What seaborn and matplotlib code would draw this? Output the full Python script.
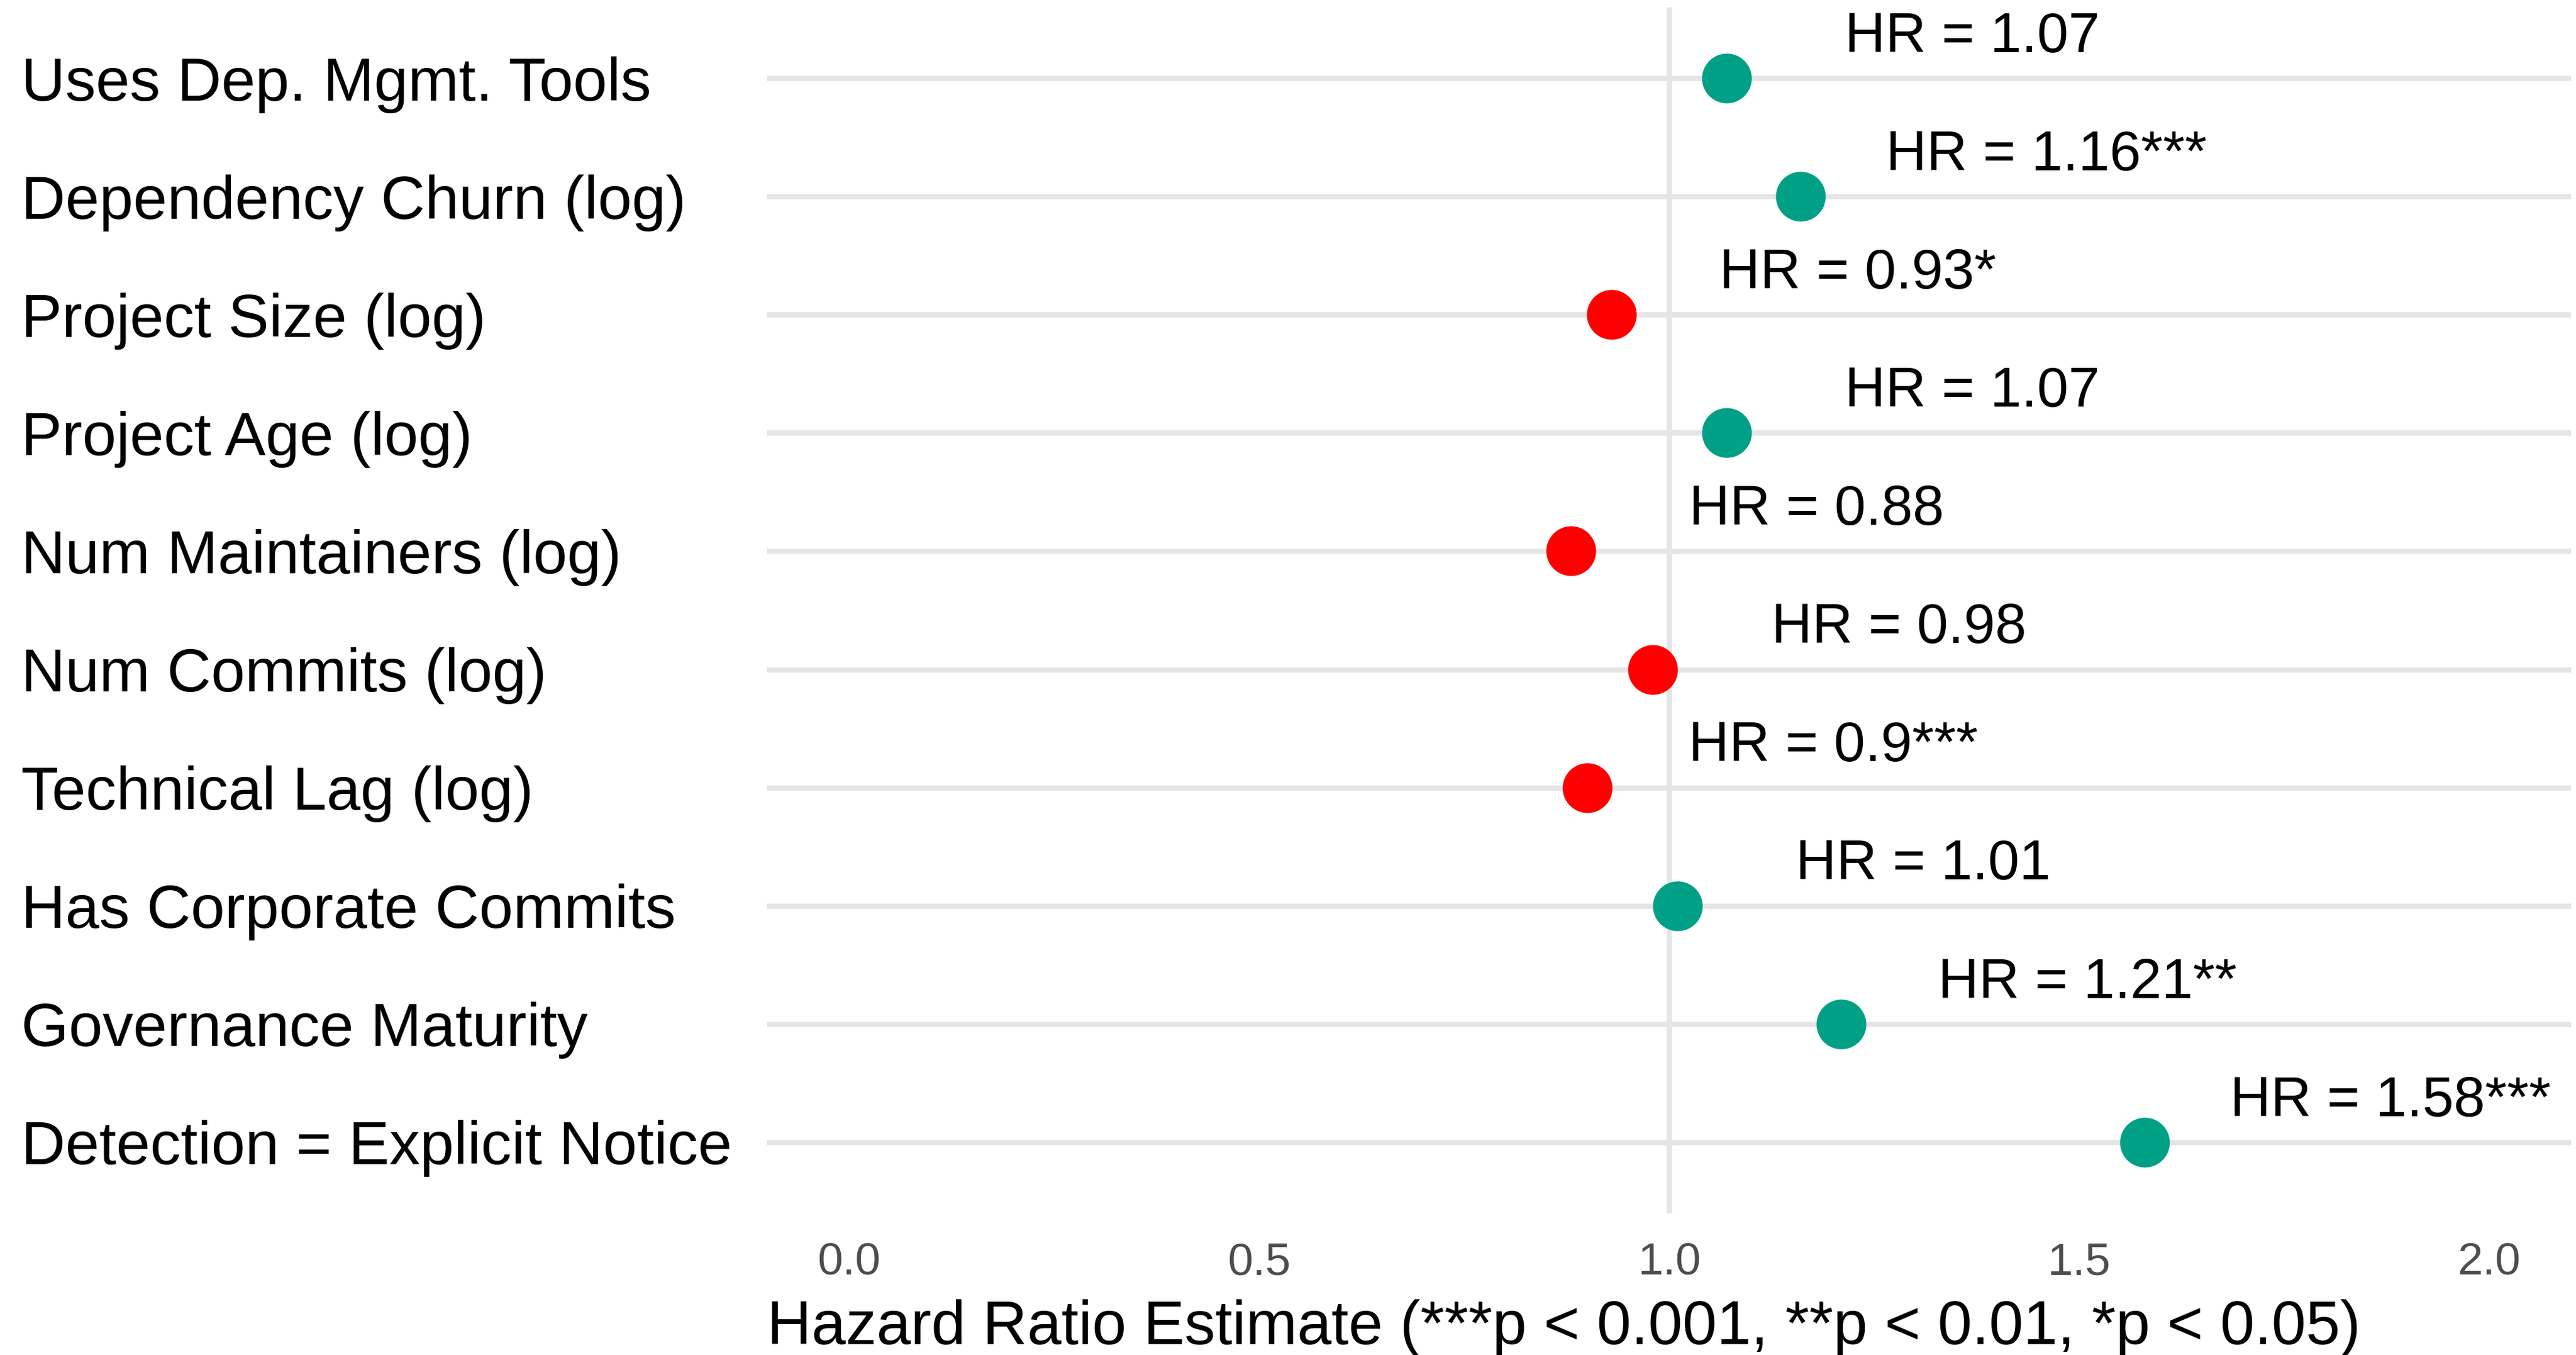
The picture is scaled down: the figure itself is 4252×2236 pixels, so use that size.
import matplotlib
matplotlib.use("Agg")
import matplotlib.pyplot as plt
import seaborn as sns
import pandas as pd

variables = [
    "Uses Dep. Mgmt. Tools",
    "Dependency Churn (log)",
    "Project Size (log)",
    "Project Age (log)",
    "Num Maintainers (log)",
    "Num Commits (log)",
    "Technical Lag (log)",
    "Has Corporate Commits",
    "Governance Maturity",
    "Detection = Explicit Notice",
]
hazard_ratios = [1.07, 1.16, 0.93, 1.07, 0.88, 0.98, 0.90, 1.01, 1.21, 1.58]
hr_text = ["1.07", "1.16", "0.93", "1.07", "0.88", "0.98", "0.9", "1.01", "1.21", "1.58"]
stars = ["", "***", "*", "", "", "", "***", "", "**", "***"]
x_ticks = [0.0, 0.5, 1.0, 1.5, 2.0]
x_tick_labels = ["0.0", "0.5", "1.0", "1.5", "2.0"]

df = pd.DataFrame({
    "variable": variables,
    "hr": hazard_ratios,
    "label": [f"HR = {t}{s}" for t, s in zip(hr_text, stars)],
})
df["direction"] = ["Increase" if v > 1 else "Decrease" for v in df["hr"]]

sns.set_theme(style="white")
plt.rcParams["font.family"] = ["Liberation Sans", "DejaVu Sans"]

fig = plt.figure(figsize=(4252 / 300, 2236 / 300), dpi=300)
ax = fig.add_axes([1266 / 4252, 1 - 2002 / 2236, (4244 - 1266) / 4252, (2002 - 12) / 2236])

grid_c = "#E5E5E5"
lw = 2.1
for i in range(len(variables)):
    ax.axhline(i, color=grid_c, lw=lw, zorder=0)
ax.axvline(1.0, color=grid_c, lw=lw, zorder=0.5)

sns.stripplot(
    data=df, x="hr", y="variable", hue="direction", order=variables,
    palette={"Increase": "#00A087", "Decrease": "#FF0000"},
    jitter=False, size=19.7, linewidth=0, legend=False, ax=ax, zorder=3,
)

for i, row in df.iterrows():
    ax.text(row["hr"] + 0.3, i - 0.345, row["label"], ha="center", va="center",
            fontsize=22.3, color="black", zorder=4)

ax.set_xlim(-0.1, 2.1)
ax.set_ylim(len(variables) - 1 + 0.6, -0.6)
ax.set_xticks(x_ticks)
ax.set_xticklabels(x_tick_labels)
for sp in ax.spines.values():
    sp.set_visible(False)
ax.grid(False)
ax.tick_params(axis="x", length=0, pad=11.5, labelsize=18, labelcolor="#4D4D4D")
ax.tick_params(axis="y", length=0, pad=(1266 - 35) / 300 * 72, labelsize=24.2, labelcolor="black")
for lab in ax.get_yticklabels():
    lab.set_horizontalalignment("left")
ax.set_ylabel("")
ax.set_xlabel("Hazard Ratio Estimate (***p < 0.001, **p < 0.01, *p < 0.05)",
              fontsize=24.4, color="black", loc="left", labelpad=6)

fig.savefig("out.png", dpi=300, facecolor="white")
